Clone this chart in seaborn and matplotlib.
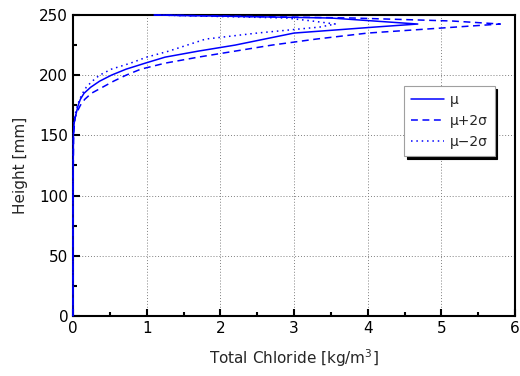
import matplotlib
matplotlib.use('Agg')
import matplotlib.pyplot as plt
import seaborn as sns
import pandas as pd
from matplotlib.ticker import MultipleLocator

# chloride profiles over height ----------
heights = [0, 100, 150, 160, 165, 170, 175, 180, 185, 190, 195, 200, 205,
           210, 215, 220, 225, 230, 235, 240, 242.5, 245, 247.5, 250]
mean = [0, 0, 0.005, 0.015, 0.03, 0.05, 0.07, 0.1, 0.15, 0.24, 0.36, 0.52,
        0.72, 0.98, 1.25, 1.7, 2.2, 2.6, 3.0, 4.1, 4.68, 4.09, 3.5, 1.1]
plus2 = [0, 0, 0.008, 0.02, 0.03, 0.06, 0.1, 0.16, 0.25, 0.4, 0.55, 0.72,
         0.92, 1.25, 1.7, 2.2, 2.7, 3.3, 4.0, 5.2, 5.8, 5.15, 3.8, 1.05]
minus2 = [0, 0, 0.004, 0.012, 0.02, 0.04, 0.06, 0.09, 0.13, 0.18, 0.26, 0.36,
          0.52, 0.78, 1.0, 1.3, 1.55, 1.8, 2.5, 3.35, 3.56, 3.25, 2.9, 1.1]
labels = ['\u03bc', '\u03bc+2\u03c3', '\u03bc\u22122\u03c3']

df = pd.concat([
    pd.DataFrame({'height': heights, 'chloride': vals, 'series': lab})
    for vals, lab in zip([mean, plus2, minus2], labels)
])

sns.set_style('white')
plt.rcParams['font.family'] = ['DejaVu Sans']

fig = plt.figure(figsize=(5.2, 3.76), dpi=100)
ax = fig.add_axes([0.1404, 0.1596, 0.85, 0.8005])

sns.lineplot(data=df, x='chloride', y='height', hue='series', style='series',
             palette=['blue'] * 3, dashes={labels[0]: '', labels[1]: (4.5, 3),
                                           labels[2]: (1, 2.5)},
             orient='y', linewidth=1.1, legend=False, ax=ax)
# profiles sit on the left spine, keep them visible over it
for ln in ax.lines:
    ln.set_zorder(3)
    ln.set_clip_on(False)

ax.set_xlim(0, 6)
ax.set_ylim(0, 250)
ax.xaxis.set_major_locator(MultipleLocator(1))
ax.xaxis.set_minor_locator(MultipleLocator(0.5))
ax.yaxis.set_major_locator(MultipleLocator(50))
ax.yaxis.set_minor_locator(MultipleLocator(25))
ax.tick_params(which='both', direction='in', top=False, right=False,
               bottom=True, left=True, colors='black', labelsize=11,
               width=1.5)
ax.tick_params(which='major', length=5)
ax.tick_params(which='minor', length=3)
ax.grid(True, which='major', linestyle=(0, (1, 2)), color='gray', linewidth=0.7)
for sp in ax.spines.values():
    sp.set_color('black')
    sp.set_linewidth(1.5)

ax.set_xlabel('Total Chloride [kg/m$^3$]', fontsize=11, labelpad=8)
ax.set_ylabel('Height [mm]', fontsize=11, labelpad=8)

leg = ax.legend(ax.lines[:3], labels, loc='upper left',
                bbox_to_anchor=(0.749, 0.764), borderaxespad=0,
                fontsize=10, labelspacing=0.5, handlelength=2.4,
                handletextpad=0.4, borderpad=0.5, fancybox=False,
                framealpha=1, edgecolor='#a0a0a0',
                shadow={'color': 'black', 'alpha': 1})
leg.get_frame().set_linewidth(0.8)

fig.savefig('out.png', dpi=100)
